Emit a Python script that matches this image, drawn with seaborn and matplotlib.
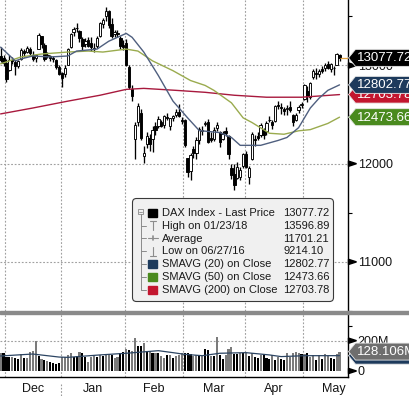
import numpy as np
import pandas as pd
import matplotlib
matplotlib.use("Agg")
import matplotlib.pyplot as plt
import seaborn as sns
from matplotlib.patches import Polygon, Rectangle, FancyBboxPatch

# ------------------------------------------------------------------ data
# daily OHLC, 29 Nov 2017 .. 18 May 2018 (trading days)
opens = [13100, 13080,
         13030, 12950, 13060, 13040, 12990, 13070, 13150, 13140, 13170, 13110, 13080, 13170, 13300, 13210, 13100, 13100, 13080, 13060, 12980,
         12920, 12910, 13000, 13190, 13340, 13380, 13350, 13270, 13220, 13260, 13230, 13170, 13200, 13300, 13420, 13500, 13560, 13420, 13320, 13330, 13280, 13210,
         13230, 12980, 12760, 12250, 12420, 12520, 12080, 12200, 12260, 12250, 12380, 12380, 12420, 12390, 12480, 12380, 12470, 12500, 12530, 12450,
         12440, 12060, 11930, 12150, 12110, 12240, 12330, 12400, 12420, 12260, 12250, 12360, 12320, 12250, 12330, 12280, 11960, 11900, 11850, 11860, 11980,
         12100, 11860, 12050, 12250, 12280, 12290, 12350, 12330, 12450, 12420, 12430, 12600, 12570, 12560, 12560, 12580, 12500, 12450, 12550, 12600,
         12660, 12740, 12680, 12880, 12920, 12910, 12960, 12970, 13020, 12960, 12970, 13010, 13110]
highs = [13190, 13110,
         13070, 13110, 13090, 13060, 13060, 13180, 13170, 13200, 13190, 13150, 13120, 13330, 13300, 13230, 13140, 13110, 13100, 13070, 13000,
         12930, 13000, 13180, 13330, 13390, 13430, 13360, 13290, 13280, 13290, 13290, 13230, 13300, 13440, 13480, 13597, 13570, 13480, 13360, 13360, 13300, 13260,
         13270, 13000, 12800, 12420, 12620, 12560, 12180, 12320, 12300, 12380, 12420, 12490, 12450, 12500, 12520, 12470, 12500, 12560, 12610, 12480,
         12460, 12060, 12110, 12180, 12270, 12370, 12380, 12430, 12460, 12320, 12370, 12420, 12330, 12330, 12370, 12290, 12000, 12000, 12020, 11970, 12110,
         12130, 11980, 12320, 12290, 12320, 12410, 12360, 12430, 12490, 12440, 12600, 12640, 12620, 12580, 12600, 12640, 12510, 12520, 12600, 12630,
         12810, 12790, 12830, 12960, 12970, 12960, 12990, 13030, 13050, 13030, 12990, 13130, 13120]
lows = [13040, 12990,
        12830, 12940, 13020, 12900, 12970, 13060, 13090, 13130, 13100, 13050, 13040, 13170, 13180, 13050, 13080, 13050, 13040, 12960, 12900,
        12780, 12880, 13000, 13180, 13300, 13340, 13240, 13150, 13190, 13190, 13150, 13140, 13180, 13290, 13380, 13450, 13380, 13280, 13290, 13290, 13170, 13160,
        12990, 12760, 12640, 12050, 12380, 12240, 12010, 12160, 12130, 12120, 12290, 12360, 12370, 12360, 12440, 12340, 12430, 12480, 12480, 12400,
        12170, 11860, 11830, 12060, 12050, 12200, 12290, 12380, 12210, 12220, 12230, 12330, 12170, 12240, 12280, 12050, 11840, 11730, 11840, 11830, 11960,
        11960, 11790, 12040, 12180, 12240, 12270, 12250, 12290, 12420, 12350, 12420, 12560, 12510, 12500, 12500, 12530, 12380, 12430, 12520, 12570,
        12650, 12630, 12660, 12860, 12860, 12880, 12920, 12940, 12960, 12930, 12900, 13000, 13050]
closes = [13061, 13024,
          12861, 13059, 13048, 12999, 13045, 13154, 13123, 13183, 13126, 13068, 13104, 13312, 13216, 13070, 13110, 13073, 13070, 12980, 12918,
          12871, 12978, 13167, 13320, 13367, 13385, 13282, 13202, 13245, 13201, 13184, 13183, 13281, 13434, 13463, 13559, 13414, 13298, 13340, 13324, 13197, 13189,
          13004, 12785, 12687, 12392, 12590, 12260, 12107, 12282, 12196, 12339, 12346, 12452, 12385, 12487, 12470, 12461, 12483, 12527, 12490, 12436,
          12190, 11913, 12090, 12114, 12245, 12355, 12347, 12418, 12221, 12237, 12345, 12389, 12217, 12307, 12309, 12100, 11886, 11787, 11970, 11940, 12096,
          11970, 11957, 12305, 12241, 12261, 12397, 12293, 12415, 12442, 12391, 12585, 12590, 12567, 12540, 12572, 12550, 12422, 12500, 12580, 12612,
          12802, 12690, 12820, 12949, 12912, 12943, 12946, 13001, 12977, 13018, 12970, 13115, 13077.72]

# volume in millions, and bar shade (1 = black, 0 = grey)
volumes_m = [117, 121,
             95, 90, 95, 84, 79, 112, 84, 84, 128, 134, 198, 99, 77, 73, 68, 62, 51, 46, 51,
             90, 95, 106, 117, 95, 99, 123, 121, 90, 62, 90, 99, 95, 106, 99, 110, 112, 106, 84, 95, 121, 128,
             143, 139, 130, 216, 167, 167, 187, 134, 132, 117, 121, 117, 99, 84, 105, 106, 88, 99, 103, 117,
             121, 117, 112, 101, 106, 101, 101, 145, 139, 101, 101, 227, 106, 79, 106, 143, 161, 110, 110, 121, 121,
             117, 101, 117, 95, 84, 106, 110, 84, 77, 106, 73, 95, 79, 73, 121, 95, 117, 123, 117, 112,
             110, 117, 95, 106, 73, 106, 79, 110, 99, 84, 79, 110, 128.106]
volume_dark = [0, 1,
               1, 1, 0, 1, 1, 0, 1, 0, 0, 0, 0, 1, 0, 1, 0, 1, 1, 1, 1,
               0, 0, 0, 0, 1, 1, 0, 1, 1, 0, 0, 0, 1, 0, 1, 0, 0, 1, 0, 0, 1, 1,
               0, 1, 0, 0, 1, 1, 0, 1, 0, 1, 0, 1, 0, 0, 1, 0, 1, 0, 0, 0,
               1, 1, 1, 0, 0, 1, 0, 1, 1, 0, 1, 0, 1, 1, 0, 0, 0, 1, 1, 0, 1,
               0, 1, 0, 1, 1, 0, 1, 1, 1, 0, 1, 0, 1, 1, 0, 0, 0, 0, 0, 1,
               0, 1, 0, 0, 1, 0, 1, 0, 0, 1, 1, 0, 0]

# moving averages (trading-day index, value)
sma20_idx = [0, 5, 7, 11, 17, 23, 26, 33, 37, 43, 45, 49, 54, 59, 64, 68, 75, 79, 82, 89, 95, 98, 102, 106, 109, 112, 116]
sma20_val = [13187, 13047, 13067, 13097, 13087, 13097, 13147, 13167, 13247, 13327, 13287, 13137, 12897, 12637, 12467,
             12337, 12317, 12267, 12187, 12187, 12237, 12267, 12367, 12567, 12667, 12747, 12802.77]
sma50_idx = [0, 7, 14, 23, 30, 35, 43, 47, 52, 59, 65, 70, 73, 79, 83, 86, 92, 97, 102, 106, 112, 116]
sma50_val = [13017, 13087, 13117, 13137, 13147, 13137, 13167, 13147, 13047, 12947, 12847, 12797, 12747, 12620,
             12467, 12420, 12310, 12300, 12335, 12347, 12410, 12473.66]
sma200_idx = [0, 11, 23, 34, 43, 49, 60, 70, 80, 91, 103, 116]
sma200_val = [12507, 12567, 12637, 12697, 12757, 12767, 12747, 12727, 12697, 12677, 12677, 12703.78]
volsma_idx = [0, 11, 20, 23, 34, 43, 54, 59, 63, 69, 75, 84, 92, 96, 104, 116]
volsma_val = [99, 112, 92, 90, 106, 117, 134, 121, 110, 101, 117, 121, 106, 95, 101, 101.2]

month_names = ["Dec", "Jan", "Feb", "Mar", "Apr", "May"]
month_start_idx = [2, 21, 43, 63, 84, 104]
month_len_last = 21

legend_labels = ["DAX Index - Last Price", "High on 01/23/18", "Average", "Low on 06/27/16",
                 "SMAVG (20) on Close", "SMAVG (50) on Close", "SMAVG (200) on Close"]
high_value = 13596.89
avg_value = 11701.21
low_value = 9214.10

price_ticks_labeled = [11000, 12000, 13000]
price_ticks_minor = [10500, 11500, 12500, 13500]
vol_ticks_labeled = [0, 200]
vol_tick_labels = ["0", "200M"]
vol_ticks_minor = [100, 300]

# ------------------------------------------------------------------ style
sns.set_style("white")
plt.rcParams['font.family'] = ['Liberation Sans', 'DejaVu Sans']

W, H = 409, 396
fig = plt.figure(figsize=(W / 100, H / 100), dpi=100)
fig.patch.set_facecolor("white")
ax = fig.add_axes([0, 1 - 311 / H, 348 / W, 311 / H])
axv = fig.add_axes([0, 1 - 377 / H, 348 / W, 63 / H])
ov = fig.add_axes([0, 0, 1, 1], zorder=20)
ov.set_xlim(0, W)
ov.set_ylim(H, 0)
ov.axis("off")
ov.patch.set_alpha(0)

XL = (-0.21, 118.9)
GRID = dict(color="#a0a0a0", lw=0.8, ls=(0, (1.6, 1.6)), zorder=0.5)

idx = np.arange(len(closes))
o = np.asarray(opens, float)
h = np.asarray(highs, float)
l = np.asarray(lows, float)
c = np.asarray(closes, float)
up = c >= o

bounds = [s - 0.5 for s in month_start_idx]
ext = bounds + [bounds[-1] + month_len_last]
mids = [(ext[k] + ext[k + 1]) / 2 for k in range(len(bounds))]

# ------------------------------------------------------------------ price panel
for b in bounds:
    ax.axvline(b, **GRID)
for v in price_ticks_labeled:
    ax.axhline(v, **GRID)

ax.vlines(idx, l, h, color="black", lw=0.95, zorder=3)
body_lo = np.minimum(o, c)
body_h = np.maximum(np.abs(c - o), 6)
ax.bar(idx, body_h, bottom=body_lo, width=0.8,
       color=np.where(up, "white", "black"), edgecolor="black", linewidth=0.65, zorder=4)

sns.lineplot(x=sma200_idx, y=sma200_val, ax=ax, color="#a8193d", lw=1.0, zorder=5)
sns.lineplot(x=sma50_idx, y=sma50_val, ax=ax, color="#9aab4e", lw=1.0, zorder=5)
sns.lineplot(x=sma20_idx, y=sma20_val, ax=ax, color="#4f5f7f", lw=1.0, zorder=5)
ax.hlines(c[-1], idx[-1], XL[1], color="#e0a040", lw=0.9, zorder=5)

ax.set_xlim(*XL)
ax.set_ylim(10557, 13667)
ax.set_xticks([])
ax.yaxis.tick_right()
ax.set_yticks(price_ticks_labeled)
ax.set_yticklabels([str(v) for v in price_ticks_labeled])
ax.set_yticks(price_ticks_minor, minor=True)
ax.tick_params(axis="y", which="major", length=0, pad=7, labelsize=9, labelcolor="#151515")
ax.tick_params(axis="y", which="minor", length=3, width=0.8, color="black", direction="out")
ax.set_xlabel("")
ax.set_ylabel("")
for s in ["left", "top", "bottom"]:
    ax.spines[s].set_visible(False)
ax.spines["right"].set_color("black")
ax.spines["right"].set_linewidth(1.0)

# ------------------------------------------------------------------ volume panel
for b in bounds:
    axv.axvline(b, **GRID)
axv.axhline(200, **GRID)
vol_df = pd.DataFrame({"i": idx, "vol": volumes_m,
                       "shade": ["dark" if d else "light" for d in volume_dark]})
sns.barplot(data=vol_df, x="i", y="vol", hue="shade",
            palette={"dark": "#000000", "light": "#7b7b7b"}, native_scale=True,
            width=0.72, dodge=False, errorbar=None, legend=False, linewidth=0,
            saturation=1, ax=axv, zorder=3)
sns.lineplot(x=volsma_idx, y=volsma_val, ax=axv, color="#2c4563", lw=0.9, zorder=4)

axv.set_xlim(*XL)
axv.set_ylim(-39.6, 376)
axv.set_xlabel("")
axv.set_ylabel("")
axv.set_xticks(bounds)
axv.set_xticklabels([""] * len(bounds))
axv.set_xticks(mids, minor=True)
axv.set_xticklabels(month_names, minor=True)
axv.tick_params(axis="x", which="major", length=4, width=0.8, color="black", direction="out")
axv.tick_params(axis="x", which="minor", length=0, pad=4, labelsize=9, labelcolor="#151515")
axv.yaxis.tick_right()
axv.set_yticks(vol_ticks_labeled)
axv.set_yticklabels(vol_tick_labels)
axv.set_yticks(vol_ticks_minor, minor=True)
axv.tick_params(axis="y", which="major", length=0, pad=7, labelsize=9, labelcolor="#151515")
axv.tick_params(axis="y", which="minor", length=3, width=0.8, color="black", direction="out")
for s in ["left", "top"]:
    axv.spines[s].set_visible(False)
for s in ["right", "bottom"]:
    axv.spines[s].set_color("black")
    axv.spines[s].set_linewidth(1.0)


# ------------------------------------------------------------------ overlay (pixels)
def px(a, x, y):
    X, Y = a.transData.transform((x, y))
    return X, H - Y


ov.add_patch(Rectangle((0, 311), W, 2.8, color="#8a8a8a", zorder=1))
jx, _ = px(axv, bounds[1], 0)
ov.plot([jx, jx], [384, 396], color="#999999", lw=0.8, ls=(0, (1.5, 1.5)), zorder=1)

for a, vals in [(ax, price_ticks_labeled), (axv, vol_ticks_labeled)]:
    for v in vals:
        X, Y = px(a, XL[1], v)
        ov.add_patch(Polygon([(X + 0.5, Y - 2.6), (X + 0.5, Y + 2.6), (X + 8.5, Y)],
                             closed=True, color="black", zorder=2))


def tag(a, v, text, color, z):
    X, Y = px(a, XL[1], v)
    X += 0.5
    ov.add_patch(Polygon([(X, Y), (X + 7, Y - 8.5), (W + 5, Y - 8.5), (W + 5, Y + 8.5), (X + 7, Y + 8.5)],
                         closed=True, fc=color, ec="#e8e8e8", lw=0.6, zorder=z))
    ov.text(X + 8.5, Y + 0.5, text, color="white", fontsize=9.5, ha="left", va="center", zorder=z + 0.5)


tag(ax, sma50_val[-1], f"{sma50_val[-1]:.2f}", "#4a8a1e", 5)
tag(ax, sma200_val[-1], f"{sma200_val[-1]:.2f}", "#c3162f", 6)
tag(ax, sma20_val[-1], f"{sma20_val[-1]:.2f}", "#1d3a5c", 7)
tag(ax, closes[-1], f"{closes[-1]:.2f}", "#000000", 8)
tag(axv, volsma_val[-1], f"{volsma_val[-1]:.3f}M", "#1d3a5c", 5)
tag(axv, volumes_m[-1], f"{volumes_m[-1]:.3f}M", "#6e6e6e", 6)

# legend box
ov.add_patch(FancyBboxPatch((132.5, 198.5), 201, 103, boxstyle="round,pad=0,rounding_size=4",
                            fc="#f0f0f0", ec="#3a3a3a", lw=0.8, zorder=10))
rows = [212.7 + 12.8 * k for k in range(7)]
tree = "#8a8a8a"
ov.add_patch(Rectangle((138.2, 209.2), 5, 5, fc="#f0f0f0", ec=tree, lw=0.6, zorder=11))
ov.plot([139.3, 142.1], [211.7, 211.7], color=tree, lw=0.6, zorder=12)
ov.plot([140.7, 140.7], [214.2, rows[-1]], color=tree, lw=0.7, zorder=11)
for r in rows[1:]:
    ov.plot([140.7, 145.5], [r, r], color=tree, lw=0.7, zorder=11)

sq_colors = {0: "#000000", 4: "#1d3a5c", 5: "#4a8a1e", 6: "#c3162f"}
for k, col in sq_colors.items():
    ov.add_patch(Rectangle((148.3, rows[k] - 4), 9, 8, color=col, zorder=11))
ic = "#8c8c8c"
r = rows[1]
ov.plot([149.8, 156.2], [r - 4.5, r - 4.5], color=ic, lw=0.8, zorder=11)
ov.plot([153, 153], [r - 4.5, r + 4.5], color=ic, lw=0.8, zorder=11)
r = rows[2]
ov.plot([147.5, 158], [r, r], color=ic, lw=0.8, zorder=11)
ov.plot([152.7, 152.7], [r - 2, r + 2], color=ic, lw=1.2, zorder=11)
r = rows[3]
ov.plot([153, 153], [r - 4.5, r + 4.5], color=ic, lw=0.8, zorder=11)
ov.plot([149.8, 156.2], [r + 4.5, r + 4.5], color=ic, lw=0.8, zorder=11)

legend_values = [closes[-1], high_value, avg_value, low_value,
                 sma20_val[-1], sma50_val[-1], sma200_val[-1]]
for k, (lab, val) in enumerate(zip(legend_labels, legend_values)):
    ov.text(161.5, rows[k] + 0.3, lab, fontsize=8, color="#1a1a1a", ha="left", va="center", zorder=12)
    ov.text(283, rows[k] + 0.3, f"{val:.2f}", fontsize=8, color="#1a1a1a", ha="left", va="center", zorder=12)

fig.savefig("out.png", dpi=100, facecolor="white")
